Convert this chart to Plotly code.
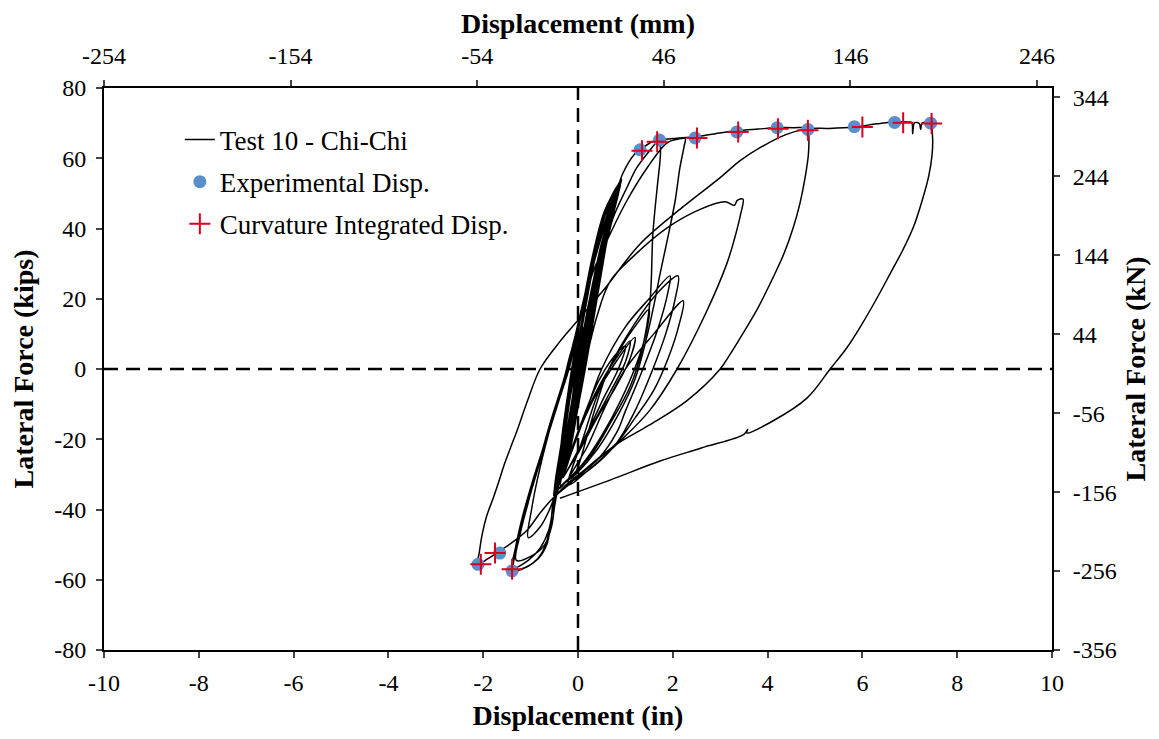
import plotly.graph_objects as go

# hysteresis path (displacement in, lateral force kips), in load order
elastic = [
    (0.00, 0.0), (0.10, 7.0), (0.22, 15.0), (0.12, 8.0), (0.00, -1.0), (-0.10, -8.0), (-0.18, -14.0),
    (-0.08, -5.0), (0.08, 6.0), (0.28, 20.0), (0.40, 29.0), (0.30, 21.0), (0.12, 6.0), (-0.08, -9.0),
    (-0.27, -23.0), (-0.14, -13.0), (0.06, 2.0), (0.30, 21.0), (0.50, 35.0), (0.62, 42.0), (0.52, 34.0),
    (0.28, 14.0), (0.02, -5.0), (-0.20, -19.0), (-0.38, -31.0), (-0.48, -34.0),
]
band_loops = [
    (-0.30, -18.0), (-0.10, 0.0), (0.14, 18.0), (0.36, 34.0), (0.60, 46.0), (0.86, 52.5),
    (0.80, 48.0), (0.62, 39.0), (0.46, 27.0), (0.26, 12.0), (0.10, 0.0), (-0.08, -13.0), (-0.28, -27.0), (-0.46, -34.0),
    (-0.26, -16.0), (-0.05, 1.0), (0.18, 19.0), (0.40, 34.0), (0.64, 45.0), (0.89, 53.6),
    (0.84, 50.0), (0.66, 41.0), (0.50, 29.0), (0.32, 14.0), (0.15, 0.0), (-0.02, -12.0), (-0.22, -26.0), (-0.42, -33.0),
    (-0.24, -18.0), (-0.04, -2.0), (0.20, 17.0), (0.44, 32.0), (0.66, 43.0), (0.82, 50.0),
    (0.76, 46.0), (0.58, 36.0), (0.42, 24.0), (0.22, 8.0), (0.06, -4.0), (-0.12, -17.0), (-0.32, -29.0), (-0.50, -35.0),
    (-0.34, -20.0), (-0.14, -1.0), (0.10, 18.0), (0.32, 33.0), (0.56, 45.0), (0.80, 51.0),
    (0.74, 47.0), (0.56, 37.0), (0.38, 24.0), (0.20, 9.0), (0.04, -3.0), (-0.14, -17.0), (-0.34, -29.0), (-0.44, -33.0),
    (-0.28, -19.0), (-0.08, 0.0), (0.16, 19.0), (0.38, 34.0), (0.62, 46.0), (0.92, 54.0),
    (0.86, 51.0), (0.70, 43.0), (0.54, 31.0), (0.34, 15.0), (0.18, 2.0), (0.00, -11.0), (-0.20, -25.0), (-0.40, -32.0),
    (-0.22, -17.0), (-0.02, 0.0), (0.22, 18.0), (0.46, 33.0), (0.70, 45.0), (0.87, 51.0),
    (0.80, 47.0), (0.60, 36.5), (0.44, 25.0), (0.24, 10.0), (0.08, -2.0), (-0.10, -15.0), (-0.30, -28.0), (-0.48, -35.0),
    (-0.32, -21.0), (-0.12, -3.0), (0.12, 16.0), (0.34, 31.0), (0.58, 44.0), (0.78, 49.0),
    (0.70, 44.0), (0.52, 33.0), (0.36, 21.0), (0.16, 5.0), (0.00, -7.0), (-0.18, -21.0), (-0.38, -31.0),
    (-0.36, -22.0), (-0.18, -4.0), (0.06, 15.0), (0.28, 30.0), (0.52, 42.0), (0.76, 48.5),
    (0.72, 45.0), (0.58, 38.0), (0.40, 26.0), (0.20, 11.0), (0.02, -3.0), (-0.16, -18.0), (-0.36, -30.0), (-0.52, -36.0),
    (-0.20, -15.0), (0.02, 3.0), (0.26, 21.0), (0.50, 36.0), (0.74, 47.0), (0.90, 52.5),
    (0.82, 48.5), (0.64, 40.0), (0.48, 28.0), (0.28, 12.0), (0.12, -1.0), (-0.06, -14.0), (-0.26, -27.0), (-0.44, -34.0),
]
neg_a = [
    (-0.60, -40.0), (-0.80, -45.0), (-1.05, -48.0), (-0.98, -40.0), (-0.80, -28.0), (-0.55, -15.0),
    (-0.30, -4.0), (-0.05, 10.0), (0.25, 27.0), (0.55, 41.0), (0.82, 51.0), (0.70, 43.0), (0.42, 25.0),
    (0.12, 3.0), (-0.15, -17.0), (-0.30, -30.0),
]
low_fan = [
    (0.00, -18.0), (0.40, -6.0), (0.80, 3.0), (1.10, 8.0), (1.00, 2.0), (0.70, -6.0), (0.30, -16.0),
    (-0.10, -26.0), (-0.35, -31.0),
    (-0.05, -20.0), (0.35, -8.0), (0.75, 1.0), (1.20, 9.0), (1.10, 3.0), (0.80, -5.0), (0.40, -14.0),
    (0.00, -24.0), (-0.30, -30.0),
    (0.05, -16.0), (0.45, -3.0), (0.85, 5.0), (1.00, 6.5), (0.85, 0.0), (0.55, -8.0), (0.20, -18.0),
    (-0.15, -27.0), (-0.32, -31.0),
]
small_loops = [
    (0.10, -15.0), (0.50, 0.0), (1.00, 12.0), (1.50, 20.0), (1.94, 26.5), (1.90, 22.0), (1.70, 12.0),
    (1.37, 0.0), (1.00, -12.0), (0.82, -18.0), (0.40, -26.0), (-0.10, -31.0),
    (0.00, -28.0), (0.30, -14.0), (0.65, 0.0), (1.20, 13.0), (1.70, 22.0), (2.11, 26.5), (2.05, 20.0),
    (1.85, 10.0), (1.58, 0.0), (1.20, -12.0), (0.82, -21.0), (0.30, -28.0), (-0.20, -32.0),
    (0.20, -22.0), (0.60, -10.0), (1.00, 0.0), (1.60, 10.0), (2.22, 19.4), (2.12, 12.0), (1.90, 3.0),
    (1.60, -6.0), (1.20, -14.0), (0.82, -21.0), (0.30, -27.0), (-0.25, -33.0),
]
neg_b = [
    (-0.50, -37.0), (-0.57, -44.0), (-0.66, -50.0), (-0.84, -54.0), (-1.10, -56.4), (-1.37, -57.3),
    (-1.30, -50.0), (-1.14, -41.0), (-0.92, -31.0), (-0.66, -20.0), (-0.38, -8.0), (-0.17, 1.0),
    (0.08, 16.0), (0.36, 32.0), (0.62, 44.0), (0.75, 47.0), (0.60, 36.0), (0.30, 14.0), (0.00, -8.0),
    (-0.25, -24.0), (-0.38, -33.0),
]
p1_cycle = [
    (-0.10, -12.0), (0.20, 10.0), (0.50, 32.0), (0.75, 47.0), (0.84, 51.6), (0.95, 55.8), (1.20, 61.3),
    (1.31, 62.4), (1.50, 64.2), (1.71, 65.2), (1.74, 62.5), (1.73, 59.3), (1.67, 51.6), (1.58, 38.5),
    (1.52, 19.4), (1.36, 6.0), (1.10, -5.0), (0.70, -15.0), (0.30, -24.0), (-0.10, -30.0), (-0.40, -34.0),
]
neg_c = [
    (-0.50, -37.5), (-0.58, -44.0), (-0.68, -50.0), (-0.85, -54.0), (-1.12, -56.6), (-1.39, -57.5),
    (-1.32, -51.0), (-1.17, -42.0), (-0.96, -32.0), (-0.70, -21.0), (-0.42, -9.0), (-0.20, 0.0),
    (0.05, 14.0), (0.30, 27.0),
]
p2_cycle = [
    (0.68, 38.5), (1.03, 47.9), (1.46, 57.3), (1.88, 64.4), (2.10, 65.4), (2.26, 65.6), (2.24, 63.5),
    (2.15, 57.3), (2.05, 47.9), (1.88, 36.5), (1.73, 27.0), (1.62, 19.4), (1.45, 9.0), (1.20, -3.0),
    (0.85, -13.0), (0.40, -23.0), (-0.05, -30.0), (-0.40, -34.0),
]
neg_d = [
    (-0.48, -38.0), (-0.56, -45.0), (-0.70, -50.0), (-0.95, -53.0), (-1.30, -54.5), (-1.22, -47.0),
    (-1.05, -38.0), (-0.85, -28.0), (-0.58, -15.0), (-0.30, -3.0), (-0.05, 10.0), (0.25, 26.0),
    (0.55, 40.0), (0.80, 49.0), (0.68, 41.0), (0.40, 22.0), (0.10, 1.0), (-0.15, -18.0), (-0.42, -33.0),
    (-0.52, -39.0), (-0.62, -46.0), (-0.80, -51.0), (-1.05, -54.5), (-1.35, -56.5), (-1.26, -49.0),
    (-1.10, -40.0), (-0.88, -30.0), (-0.62, -18.0), (-0.35, -6.0), (-0.12, 6.0), (0.10, 12.0),
    (-0.05, 0.0), (-0.20, -24.0),
]
loop_48 = [
    (0.10, -2.0), (0.40, 15.0), (0.68, 25.0), (1.20, 32.5), (1.88, 40.2), (2.60, 45.6), (3.10, 47.6),
    (3.30, 46.6), (3.36, 48.0), (3.48, 48.4), (3.43, 44.0), (3.30, 37.0), (3.14, 30.0), (2.70, 16.0),
    (2.09, 0.0), (1.50, -12.0), (0.82, -21.4), (0.20, -29.0), (-0.20, -33.0),
    (0.10, -20.0), (0.45, -6.0), (0.90, 6.0), (1.25, 13.0), (1.50, 17.0), (1.45, 11.0), (1.25, 2.0),
    (0.90, -9.0), (0.50, -19.0), (0.10, -27.0), (-0.25, -32.0), (-0.40, -34.0),
]
big_cycle = [
    (-0.15, -14.0), (0.10, 6.0), (0.30, 22.0), (0.45, 31.0), (0.61, 36.5), (0.74, 43.0), (1.03, 51.6),
    (1.24, 57.3), (1.46, 61.3), (1.71, 65.0), (2.00, 65.6), (2.45, 66.1), (2.90, 67.0), (3.35, 67.8),
    (3.80, 68.3), (4.20, 68.7), (4.55, 68.7), (4.85, 68.4), (4.87, 66.0), (4.86, 61.0), (4.79, 54.4),
    (4.68, 47.0), (4.54, 40.2), (4.35, 33.0), (4.11, 25.9), (3.80, 17.5), (3.42, 8.8), (3.20, 4.0),
    (3.00, 0.0), (2.30, -9.0), (1.50, -16.0), (0.82, -21.4), (0.20, -28.0),
    (-0.20, -33.0), (-0.53, -36.8), (-0.80, -41.0), (-1.08, -46.0), (-1.40, -49.5), (-1.69, -52.1),
    (-1.90, -54.0), (-2.11, -55.6),
]
final_cycle = [
    (-2.08, -52.0), (-2.02, -47.0), (-1.93, -42.0), (-1.79, -36.8), (-1.67, -32.0), (-1.55, -27.0),
    (-1.42, -22.3), (-1.29, -17.7), (-1.05, -8.5), (-0.80, 0.0), (-0.40, 7.5), (0.04, 14.5),
    (0.60, 23.5), (1.31, 35.6), (2.20, 46.0), (3.00, 54.5), (3.42, 59.3), (3.84, 63.0), (4.40, 66.8),
    (4.85, 68.4), (5.30, 68.5), (5.82, 68.9), (6.30, 69.8), (6.69, 70.4), (6.95, 70.3), (7.04, 70.2),
    (7.06, 67.0), (7.10, 70.1), (7.20, 69.9), (7.23, 68.2), (7.26, 70.0), (7.43, 70.1), (7.48, 66.0),
    (7.47, 61.0), (7.40, 55.0), (7.25, 47.5), (7.07, 40.2), (6.85, 33.8), (6.60, 27.5), (6.30, 20.0),
    (6.00, 13.0), (5.68, 6.2), (5.32, 0.0), (4.83, -8.3), (4.11, -14.8), (3.56, -18.2), (3.58, -17.2),
    (3.50, -18.6), (2.60, -22.5), (1.73, -26.2), (0.70, -31.5), (-0.38, -36.8),
]

# marker points
exp_x = [1.31, 1.72, 2.47, 3.35, 4.20, 4.85, 5.83, 6.68, 7.44, -2.11, -1.65, -1.39]
exp_y = [62.4, 65.2, 65.8, 67.5, 68.7, 68.2, 69.0, 70.2, 70.0, -55.6, -52.4, -57.5]
curv_x = [1.35, 1.67, 2.51, 3.38, 4.22, 4.85, 6.00, 6.86, 7.46, -2.05, -1.75, -1.39]
curv_y = [62.1, 64.7, 65.8, 67.5, 68.4, 68.0, 68.9, 70.1, 69.9, -55.6, -52.4, -57.0]

in_ticks = [-10, -8, -6, -4, -2, 0, 2, 4, 6, 8, 10]
kip_ticks = [-80, -60, -40, -20, 0, 20, 40, 60, 80]
mm_ticks = [-254, -154, -54, 46, 146, 246]
kn_ticks = [-356, -256, -156, -56, 44, 144, 244, 344]

path = (elastic + band_loops + neg_a + low_fan + small_loops + neg_b + p1_cycle + neg_c + p2_cycle
        + neg_d + loop_48 + big_cycle + final_cycle)
disp = [p[0] for p in path]
force = [p[1] for p in path]

FONT = "Liberation Serif"

fig = go.Figure()
fig.add_trace(go.Scatter(x=disp, y=force, mode="lines", name="Test 10 - Chi-Chi",
                         line=dict(color="black", width=1.5, shape="spline", smoothing=1.0),
                         legendgroup="a"))
fig.add_trace(go.Scatter(x=exp_x, y=exp_y, mode="markers", name="Experimental Disp.",
                         marker=dict(color="#5B8FCB", size=13), legendgroup="b"))
fig.add_trace(go.Scatter(x=curv_x, y=curv_y, mode="markers", name="Curvature Integrated Disp.",
                         marker=dict(symbol="cross-thin", size=15, line=dict(color="#D8001C", width=2)),
                         legendgroup="c"))
# same markers in SI units on the secondary axes, invisible, so those axes get drawn
fig.add_trace(go.Scatter(x=[v * 25.4 for v in exp_x], y=[v * 4.448 for v in exp_y],
                         xaxis="x2", yaxis="y2", mode="markers", marker=dict(opacity=0),
                         showlegend=False, hoverinfo="skip"))

# dashed zero lines
fig.add_shape(type="line", x0=0, x1=0, y0=-80, y1=80, xref="x", yref="y",
              line=dict(color="black", width=2.5, dash="14px,8px"))
fig.add_shape(type="line", x0=-10, x1=10, y0=0, y1=0, xref="x", yref="y",
              line=dict(color="black", width=2.5, dash="14px,8px"))

tick_font = dict(family=FONT, size=24, color="black")
title_font = dict(family=FONT, size=28, color="black")
axis_common = dict(ticks="outside", ticklen=6, tickwidth=1.5, showline=True, linecolor="black",
                   linewidth=2, showgrid=False, zeroline=False, tickfont=tick_font, automargin=False)

# the page body adds an 8px offset, so the figure is 16px smaller than the window
fig.update_layout(
    width=1143, height=723,
    margin=dict(l=96, r=99, t=80, b=81),
    paper_bgcolor="white", plot_bgcolor="white",
    font=dict(family=FONT, color="black"),
    showlegend=True,
    legend=dict(x=0.080, y=0.951, xanchor="left", yanchor="top", bgcolor="rgba(0,0,0,0)",
                font=dict(family=FONT, size=27, color="black"), tracegroupgap=4,
                traceorder="grouped"),
    xaxis=dict(range=[-10, 10], tickvals=in_ticks, ticktext=[str(v) for v in in_ticks],
               ticklabelstandoff=4,
               title=dict(text="<b>Displacement (in)</b>", font=title_font, standoff=14), **axis_common),
    yaxis=dict(range=[-80, 80], tickvals=kip_ticks, ticktext=[str(v) for v in kip_ticks],
               ticklabelstandoff=5,
               title=dict(text="<b>Lateral Force (kips)</b>", font=title_font, standoff=14), **axis_common),
    xaxis2=dict(range=[-254, 254], tickvals=mm_ticks, ticktext=[str(v) for v in mm_ticks],
                overlaying="x", side="top", anchor="y", ticklabelstandoff=6,
                title=dict(text="<b>Displacement (mm)</b>", font=title_font, standoff=9), **axis_common),
    yaxis2=dict(range=[-356, 356], tickvals=kn_ticks, ticktext=[str(v) for v in kn_ticks],
                overlaying="y", side="right", anchor="x", ticklabelstandoff=8,
                title=dict(text="<b>Lateral Force (kN)</b>", font=title_font, standoff=14), **axis_common),
)

fig.write_html("out.html")
